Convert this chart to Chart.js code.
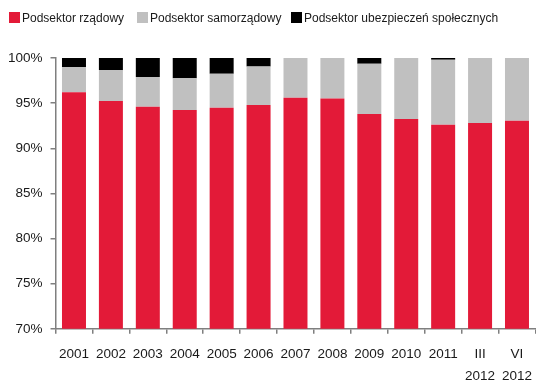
<!DOCTYPE html>
<html>
<head>
<meta charset="utf-8">
<script src="https://cdn.jsdelivr.net/npm/chart.js@4"></script>
<style>
  body { margin: 0; background: #fff; overflow: hidden; }
  #wrap { position: relative; width: 542px; height: 397px; }
  .leg { position: absolute; top: 11px; font: 12px 'Liberation Sans', Arial, sans-serif; color: #1a1a1a; white-space: nowrap; line-height: 14px; }
  .leg span { display: inline-block; width: 11px; height: 11px; margin-right: 2px; vertical-align: -1px; }
</style>
</head>
<body>
<div id="wrap">
  <canvas id="myChart"></canvas>
  <div id="legend"></div>
</div>
<script>
let lata = ['2001', '2002', '2003', '2004', '2005', '2006', '2007', '2008', '2009', '2010', '2011', ['III', '2012'], ['VI', '2012']]
let rzadowy = [96.2, 95.25, 94.6, 94.25, 94.5, 94.8, 95.6, 95.5, 93.8, 93.25, 92.6, 92.8, 93.05]
let samorzadowy = [2.8, 3.4, 3.3, 3.5, 3.75, 4.25, 4.4, 4.5, 5.55, 6.75, 7.2, 7.2, 6.95]
let ubezpieczen = [1.0, 1.35, 2.1, 2.25, 1.75, 0.95, 0, 0, 0.65, 0, 0.2, 0, 0]
let nazwy = ['Podsektor rządowy', 'Podsektor samorządowy', 'Podsektor ubezpieczeń społecznych']
let kolory = ['#e31a38', '#c0c0c0', '#000000']

// legenda (html, pozycje z obrazka)
let legendX = [9, 137, 291]
let leg = document.querySelector('#legend')
nazwy.forEach((n, i) => {
    let d = document.createElement('div')
    d.className = 'leg'
    d.style.left = legendX[i] + 'px'
    d.innerHTML = `<span style="background:${kolory[i]}"></span>${n}`
    leg.appendChild(d)
})

let osColor = '#7f7f7f'
let fontTick = { family: "'Liberation Sans', Arial, sans-serif", size: 13.5, lineHeight: 1.6 }

let ctx = document.getElementById('myChart').getContext('2d')
let myChart = new Chart(ctx, {
    type: 'bar',
    data: {
        labels: lata,
        datasets: [rzadowy, samorzadowy, ubezpieczen].map((dane, i) => ({
            label: nazwy[i],
            data: dane,
            backgroundColor: kolory[i],
            borderWidth: 0,
            barPercentage: 0.65,
            categoryPercentage: 1
        }))
    },
    options: {
        responsive: true,
        maintainAspectRatio: false,
        animation: false,
        layout: {
            padding: { top: 58, left: 0, right: 0, bottom: 0 }
        },
        plugins: {
            legend: { display: false },
            tooltip: { enabled: false }
        },
        scales: {
            x: {
                stacked: true,
                grid: { offset: true, drawOnChartArea: false, drawTicks: true, tickLength: 5, color: osColor, lineWidth: 1.5 },
                border: { display: true, color: osColor, width: 1.5 },
                ticks: { color: '#1a1a1a', font: fontTick, padding: 10, maxRotation: 0, autoSkip: false }
            },
            y: {
                stacked: true,
                min: 70,
                max: 100,
                grid: { drawOnChartArea: false, drawTicks: true, tickLength: 5, color: osColor, lineWidth: 1.5 },
                border: { display: true, color: osColor, width: 1.5 },
                ticks: { stepSize: 5, color: '#1a1a1a', font: fontTick, padding: 8, callback: v => v + '%' }
            }
        }
    }
})
</script>
</body>
</html>
